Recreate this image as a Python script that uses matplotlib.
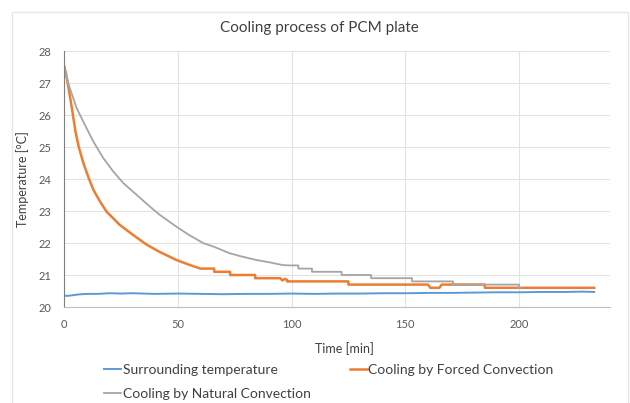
import matplotlib
matplotlib.use("Agg")
import matplotlib.pyplot as plt
from matplotlib.patches import Rectangle

plt.rcParams['font.family'] = ['Lato', 'DejaVu Sans']

# surrounding air temperature
t_air = [0, 2, 4, 6, 10, 15, 20, 25, 30, 40, 50, 60, 70, 80, 90, 100, 110, 120,
         130, 140, 150, 160, 170, 180, 190, 200, 210, 220, 228, 233]
T_air = [20.35, 20.35, 20.37, 20.39, 20.41, 20.41, 20.43, 20.42, 20.43, 20.41, 20.42,
         20.41, 20.40, 20.41, 20.41, 20.42, 20.41, 20.42, 20.42, 20.43, 20.43, 20.44,
         20.44, 20.45, 20.46, 20.46, 20.47, 20.47, 20.48, 20.47]

# forced convection
t_forced = [0, 1, 2, 3.5, 5, 6.5, 8.5, 11, 13, 15.8, 18.7, 24.6, 30.4, 36.3, 42.1, 49.4,
            55, 60, 66, 66, 73, 73, 84, 84, 95, 96, 97, 98, 98, 125, 125, 160, 161, 165,
            166, 185, 185, 233]
T_forced = [27.55, 27.25, 26.85, 26.2, 25.5, 25.0, 24.5, 24.0, 23.65, 23.3, 22.98, 22.56,
            22.25, 21.95, 21.72, 21.47, 21.32, 21.2, 21.2, 21.1, 21.1, 21.0, 21.0, 20.9,
            20.9, 20.83, 20.88, 20.85, 20.8, 20.8, 20.7, 20.7, 20.6, 20.6, 20.7, 20.7,
            20.6, 20.6]

# natural convection
t_nat = [0, 1, 2.6, 5.6, 9.2, 12.9, 17.3, 21.7, 26.1, 32, 37.9, 42.1, 49.4, 55, 61.1,
         66, 72.8, 78, 84.5, 90, 96.2, 99, 103, 103, 109, 109, 122, 122, 135, 135, 153,
         153, 171, 171, 200, 200, 201]
T_nat = [27.55, 27.2, 26.83, 26.21, 25.69, 25.17, 24.65, 24.23, 23.87, 23.5, 23.13,
         22.88, 22.51, 22.25, 22.0, 21.88, 21.68, 21.58, 21.47, 21.4, 21.31, 21.3, 21.3,
         21.2, 21.2, 21.1, 21.1, 21.0, 21.0, 20.9, 20.9, 20.8, 20.8, 20.7, 20.7, 20.6,
         20.6]

x_ticks = [0, 50, 100, 150, 200]
y_ticks = [20, 21, 22, 23, 24, 25, 26, 27, 28]

fig = plt.figure(figsize=(6.3, 4.03), dpi=100)
ax = fig.add_axes([64/630, 1 - 307/403, 546/630, 256/403])

txt = '#595959'
l1, = ax.plot(t_air, T_air, color='#5B9BD5', lw=1.4, label='Surrounding temperature')
l2, = ax.plot(t_forced, T_forced, color='#ED7D31', lw=1.8, label='Cooling by Forced Convection')
l3, = ax.plot(t_nat, T_nat, color='#A5A5A5', lw=1.3, label='Cooling by Natural Convection')

ax.set_xlim(0, 240)
ax.set_ylim(20, 28)
ax.set_xticks(x_ticks)
ax.set_yticks(y_ticks)
ax.grid(True, color='#E3E3E3', lw=0.8)
ax.set_axisbelow(True)
ax.tick_params(length=0, labelsize=8, labelcolor=txt, pad=9)
for s in ['top', 'right']:
    ax.spines[s].set_visible(False)
ax.spines['left'].set_color('#7F7F7F')
ax.spines['bottom'].set_color('#BFBFBF')

ax.set_xlabel('Time [min]', fontsize=9, color='#404040')
ax.set_ylabel('Temperature [°C]', fontsize=9, color='#404040')
ax.xaxis.set_label_coords(0.5 + 7/546, -35/256)
ax.yaxis.set_label_coords(-35/546, 0.5)

fig.text(319/630, 1 - 28/403, 'Cooling process of PCM plate', ha='center', va='center',
         fontsize=11, color='#404040')

fig.legend([l1, l3, l2], [l1.get_label(), l3.get_label(), l2.get_label()],
           ncol=2, loc='upper left', bbox_to_anchor=(104/630, 1 - 364/403),
           frameon=False, fontsize=10, handlelength=1.25, handletextpad=0.1,
           columnspacing=2.8, labelspacing=0.85, labelcolor='#404040',
           borderaxespad=0, borderpad=0)

fig.patches.append(Rectangle((12/630, -0.1), 616/630, 1.1 - 12/403,
                             transform=fig.transFigure, fill=False,
                             edgecolor='#E6E6E6', lw=1))

fig.savefig('out.png', dpi=100)
